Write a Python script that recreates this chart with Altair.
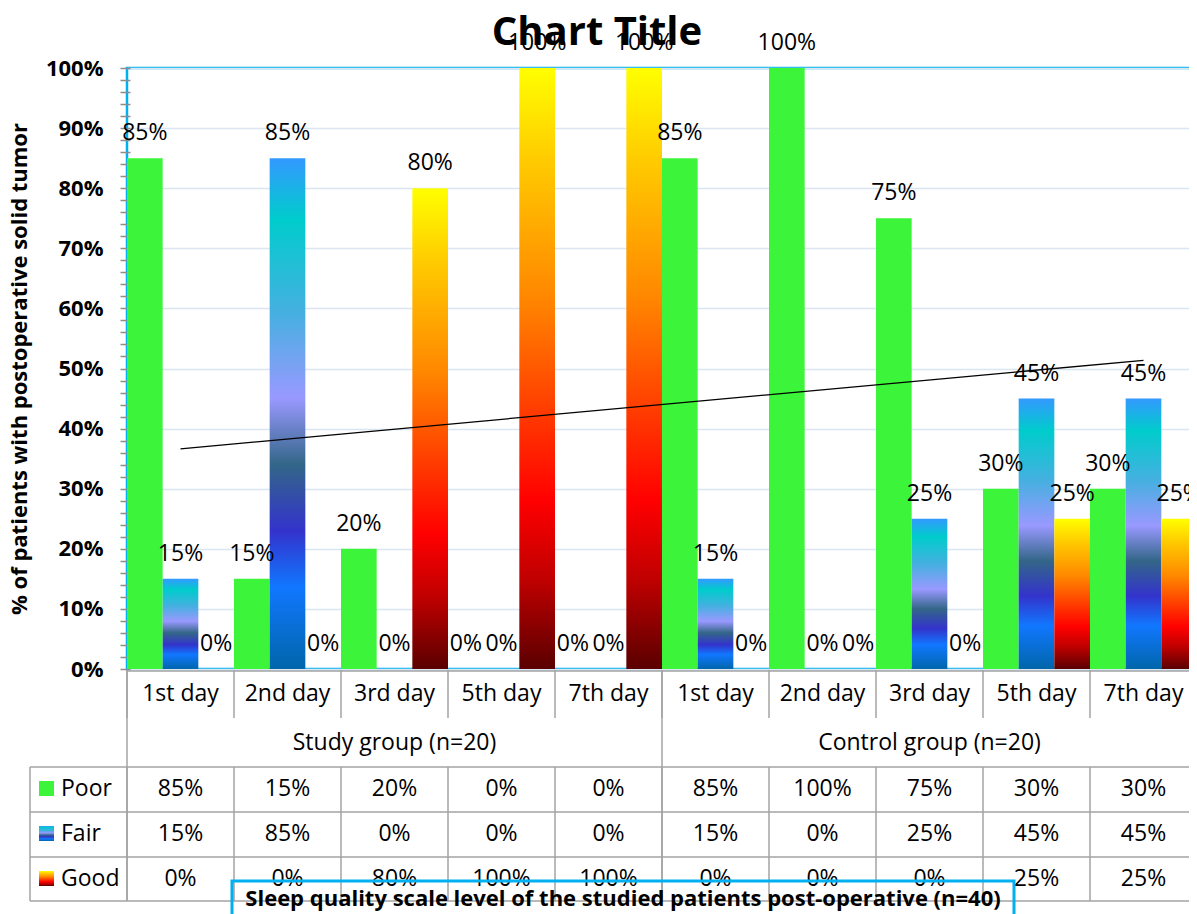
import altair as alt
import pandas as pd

# ---------------- data ----------------
cats = ["S1", "S2", "S3", "S5", "S7", "C1", "C2", "C3", "C5", "C7"]
days = ["1st day", "2nd day", "3rd day", "5th day", "7th day",
        "1st day", "2nd day", "3rd day", "5th day", "7th day"]
groups = ["Study group (n=20)"] * 5 + ["Control group (n=20)"] * 5
group_label_cats = ["S3", "C3"]
group_start_cats = ["S1", "C1"]
series = ["Poor", "Fair", "Good"]
poor = [0.85, 0.15, 0.20, 0.00, 0.00, 0.85, 1.00, 0.75, 0.30, 0.30]
fair = [0.15, 0.85, 0.00, 0.00, 0.00, 0.15, 0.00, 0.25, 0.45, 0.45]
good = [0.00, 0.00, 0.80, 1.00, 1.00, 0.00, 0.00, 0.00, 0.25, 0.25]
y_ticks = [i / 50 for i in range(51)]
title_text = "Chart Title"
y_title = "% of patients with postoperative solid tumor"
x_title = "Sleep quality scale level of the studied patients post-operative (n=40)"

values_by_series = {"Poor": poor, "Fair": fair, "Good": good}
rows = []
for s in series:
    for i, c in enumerate(cats):
        rows.append(dict(cat=c, idx=i + 1, day=days[i], group=groups[i],
                         series=s, value=values_by_series[s][i]))
df = pd.DataFrame(rows)
cat_df = pd.DataFrame({"cat": cats, "day": days, "group": groups})
series_df = pd.DataFrame({"series": series})
one = pd.DataFrame({"k": [0]})

# ---------------- style ----------------
FONT = "Open Sans"
TXT = 23
GREEN = "#3cf53a"
GRID = "#dce6f2"
LINE = "#a3a3a3"
BLUE = "#00b0f0"


def grad(stops):
    return {"gradient": "linear", "x1": 0, "y1": 0, "x2": 0, "y2": 1,
            "stops": [{"offset": o, "color": c} for o, c in stops]}


FAIR_GRAD = grad([(0.0, "#3399ff"), (0.12, "#00cccc"), (0.3, "#44b0e0"),
                  (0.47, "#9999ff"), (0.6, "#336688"), (0.73, "#3333cc"),
                  (0.84, "#1177ff"), (1.0, "#0066aa")])
GOOD_GRAD = grad([(0.0, "#ffff00"), (0.15, "#ffcc00"), (0.38, "#ff8800"),
                  (0.72, "#ff0000"), (0.85, "#c00000"), (1.0, "#5a0000")])
fills = {"Poor": GREEN, "Fair": FAIR_GRAD, "Good": GOOD_GRAD}

W, H = 1070, 601
# table layout (pixels relative to the plot area)
DAY_ROW_Y = 626
GROUP_ROW_Y = 675
ROW_Y = {"Poor": 721, "Fair": 766, "Good": 811}
TABLE_TOP, TABLE_BOTTOM = 699, 833
H_LINES = [699, 744, 789, 833]
LEGEND_LEFT = -97

xscale = alt.Scale(domain=cats, paddingInner=0, paddingOuter=0)
xband = alt.X("cat:N", scale=xscale, axis=None, title=None)
xoff = alt.XOffset("series:N", scale=alt.Scale(domain=series, paddingInner=0, paddingOuter=0))
yscale = alt.Scale(domain=[0, 1], nice=False, zero=True)
major = "round(datum.value*100) % 10 === 0"
y_axis = alt.Axis(
    values=y_ticks, format=".0%",
    labelExpr=major + " ? datum.label : ''", labelOverlap=False,
    labelFont=FONT, labelFontSize=22, labelFontWeight="bold", labelColor="black",
    labelPadding=17, tickSize=10, tickColor="#8c8c8c", tickWidth=1.5, offset=-3,
    domain=False, grid=True, gridColor=GRID, gridWidth=1.5,
    gridOpacity={"condition": {"test": major, "value": 1}, "value": 0},
    title=y_title, titleFont=FONT, titleFontSize=22, titleFontWeight="bold",
    titleColor="black", titleX=-111, titleBaseline="middle",
)
yq = alt.Y("value:Q", scale=yscale, axis=y_axis)

layers = []
# bars
for s in series:
    layers.append(
        alt.Chart(df).transform_filter(alt.datum.series == s)
        .mark_bar(color=fills[s])
        .encode(x=xband, xOffset=xoff, y=yq)
    )
# value labels above bars
layers.append(
    alt.Chart(df).mark_text(font=FONT, fontSize=TXT, baseline="alphabetic", dy=-18, color="black")
    .encode(x=xband, xOffset=xoff, y=yq, text=alt.Text("value:Q", format=".0%"))
)
# gray axis line under plot
layers.append(alt.Chart(one).mark_rule(color=LINE, strokeWidth=1.5)
              .encode(x=alt.value(0), x2=alt.value(W), y=alt.value(H + 2)))
# category separators (day row and table rows)
xsep = alt.X("cat:N", scale=xscale, axis=None, title=None, bandPosition=0)
layers.append(alt.Chart(cat_df).mark_rule(color=LINE, strokeWidth=1.5)
              .encode(x=xsep, y=alt.value(H + 1), y2=alt.value(650)))
layers.append(alt.Chart(cat_df).mark_rule(color=LINE, strokeWidth=1.5)
              .encode(x=xsep, y=alt.value(TABLE_TOP), y2=alt.value(TABLE_BOTTOM)))
layers.append(alt.Chart(cat_df).transform_filter(alt.FieldOneOfPredicate("cat", group_start_cats))
              .mark_rule(color=LINE, strokeWidth=1.5)
              .encode(x=xsep, y=alt.value(H + 1), y2=alt.value(TABLE_BOTTOM)))
layers.append(alt.Chart(one).mark_rule(color=LINE, strokeWidth=1.5)
              .encode(x=alt.value(LEGEND_LEFT), y=alt.value(TABLE_TOP), y2=alt.value(TABLE_BOTTOM)))
for hy in H_LINES:
    layers.append(alt.Chart(one).mark_rule(color=LINE, strokeWidth=1.5)
                  .encode(x=alt.value(LEGEND_LEFT), x2=alt.value(W), y=alt.value(hy)))
# day labels
layers.append(alt.Chart(cat_df).mark_text(font=FONT, fontSize=TXT, baseline="middle", color="black")
              .encode(x=xband, y=alt.value(DAY_ROW_Y), text="day:N"))
# group labels
layers.append(alt.Chart(cat_df).transform_filter(alt.FieldOneOfPredicate("cat", group_label_cats))
              .mark_text(font=FONT, fontSize=TXT, baseline="middle", color="black")
              .encode(x=xband, y=alt.value(GROUP_ROW_Y), text="group:N"))
# data table rows with legend keys
for s in series:
    ry = ROW_Y[s]
    layers.append(alt.Chart(df).transform_filter(alt.datum.series == s)
                  .mark_text(font=FONT, fontSize=TXT, baseline="middle", color="black")
                  .encode(x=xband, y=alt.value(ry), text=alt.Text("value:Q", format=".0%")))
    layers.append(alt.Chart(series_df).transform_filter(alt.datum.series == s)
                  .mark_rect(color=fills[s])
                  .encode(x=alt.value(-88), x2=alt.value(-73),
                          y=alt.value(ry - 8), y2=alt.value(ry + 7)))
    layers.append(alt.Chart(series_df).transform_filter(alt.datum.series == s)
                  .mark_text(font=FONT, fontSize=TXT, baseline="middle", align="left", color="black")
                  .encode(x=alt.value(-66), y=alt.value(ry), text="series:N"))
# x-axis title box (overlapping table, as in the original)
layers.append(alt.Chart(one).mark_rect(filled=False, stroke=BLUE, strokeWidth=3)
              .encode(x=alt.value(105), x2=alt.value(887), y=alt.value(813), y2=alt.value(880)))
layers.append(alt.Chart(one).mark_text(text=x_title, font=FONT, fontSize=22, fontWeight="bold",
                                       align="center", baseline="alphabetic", color="black")
              .encode(x=alt.value(496), y=alt.value(838)))
# chart title
layers.append(alt.Chart(one).mark_text(text=title_text, font=FONT, fontSize=40, fontWeight="bold",
                                       align="center", baseline="alphabetic", color="black")
              .encode(x=alt.value(470), y=alt.value(-23)))

inner = alt.layer(*layers)

# linear trendline of the Poor series
trend = (alt.Chart(df).transform_filter(alt.datum.series == "Poor")
         .transform_regression("idx", "value", method="linear")
         .mark_line(color="black", strokeWidth=1.3)
         .encode(x=alt.X("idx:Q", scale=alt.Scale(domain=[0.5, 10.5], nice=False, zero=False), axis=None),
                 y=yq))

chart = (alt.layer(inner, trend)
         .resolve_scale(x="independent")
         .properties(width=W, height=H,
                     autosize=alt.AutoSizeParams(type="none"),
                     padding={"left": 119, "top": 60, "right": -8, "bottom": 245})
         .configure_view(stroke=BLUE, strokeWidth=2.5))

chart.save("out.html", embed_options={"renderer": "svg", "actions": False})
